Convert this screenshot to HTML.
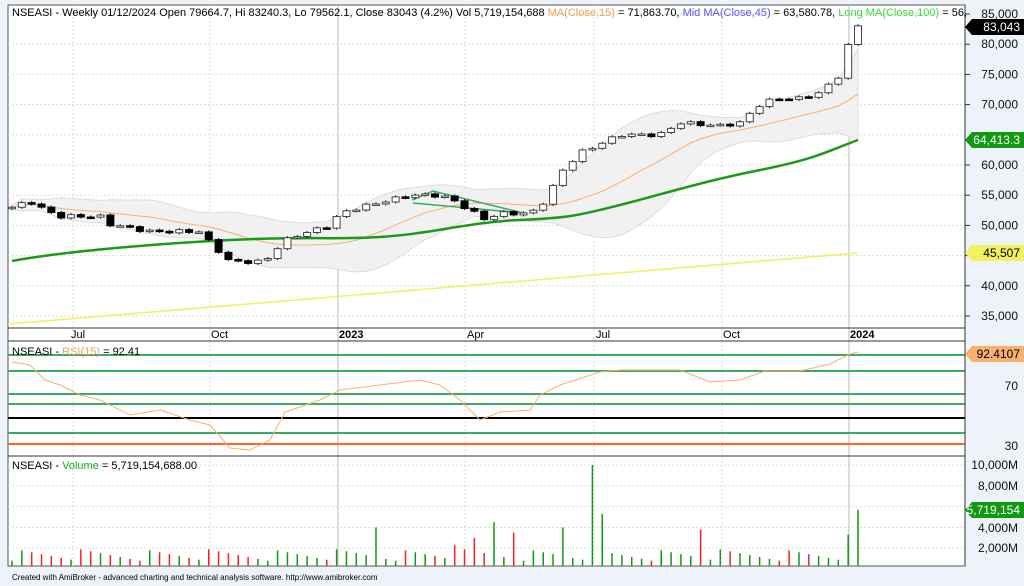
<!DOCTYPE html><html><head><meta charset="utf-8"><style>
body{margin:0;background:#eef2f9;}svg{display:block;font-family:"Liberation Sans",sans-serif;}
</style></head><body>
<svg id="s" width="1024" height="586" xmlns="http://www.w3.org/2000/svg">
<rect x="0" y="0" width="1024" height="586" fill="#eef2f9"/>
<rect x="8" y="5" width="957" height="561" fill="#fff" stroke="#555"/>
<g id="grid"></g>
<g id="plot"></g>
<line x1="8" y1="328" x2="965" y2="328" stroke="#333"/>
<line x1="8" y1="341" x2="965" y2="341" stroke="#333"/>
<line x1="8" y1="456" x2="965" y2="456" stroke="#333"/>
<line x1="965" y1="5" x2="965" y2="566" stroke="#333"/>
<g font-size="11" fill="#000">
<text x="71" y="338">Jul</text><text x="211" y="338">Oct</text><text x="339" y="338" font-weight="bold">2023</text><text x="467" y="338">Apr</text><text x="596" y="338">Jul</text><text x="723" y="338">Oct</text><text x="850" y="338" font-weight="bold">2024</text>
</g>
<text x="12" y="16" font-size="11" textLength="955" lengthAdjust="spacingAndGlyphs"><tspan fill="#000">NSEASI - Weekly 01/12/2024 Open 79664.7, Hi 83240.3, Lo 79562.1, Close 83043 (4.2%) Vol 5,719,154,688 </tspan><tspan fill="#f5a050">MA(Close,15)</tspan><tspan> = 71,863.70, </tspan><tspan fill="#5555ff">Mid MA(Close,45)</tspan><tspan> = 63,580.78, </tspan><tspan fill="#33dd33">Long MA(Close,100)</tspan><tspan> = 56,</tspan></text>
<text x="12" y="355" font-size="11">NSEASI - <tspan fill="#f5a050">RSI(15)</tspan> = 92.41</text>
<text x="12" y="469" font-size="11">NSEASI - <tspan fill="#22aa22">Volume</tspan> = 5,719,154,688.00</text>
<text x="12" y="580" font-size="8" fill="#000">Created with AmiBroker - advanced charting and technical analysis software. http://www.amibroker.com</text>
<g id="ax" font-size="12" fill="#111" text-anchor="end"></g>
</svg>
<script>
const NS="http://www.w3.org/2000/svg";
function el(p,t,a){const e=document.createElementNS(NS,t);for(const k in a)e.setAttribute(k,a[k]);document.getElementById(p).appendChild(e);return e;}
const py=v=>14+(85000-v)*0.00604;
const vy=m=>569-m*0.0104;
[85000,80000,75000,70000,65000,60000,55000,50000,45000,40000,35000].forEach(v=>el("grid","line",{x1:8,x2:965,y1:py(v),y2:py(v),stroke:"#ddd","stroke-dasharray":"2,2"}));
[10000,8000,6000,4000,2000].forEach(v=>el("grid","line",{x1:8,x2:965,y1:vy(v),y2:vy(v),stroke:"#ddd","stroke-dasharray":"2,2"}));
[73,210,338,465,594,722,849].forEach((x,i)=>el("grid","line",{x1:x,x2:x,y1:5,y2:566,stroke:(i==2||i==6)?"#bbb":"#ddd","stroke-dasharray":(i==2||i==6)?"":"2,2"}));
const K=[[12,53000],[30,54000],[45,52500],[60,51500],[100,51500],[110,50200],[150,49000],[200,49000],[208,47500],[230,44000],[265,44000],[275,46000],[290,48000],[330,50000],[340,52000],[360,53000],[410,55000],[440,55000],[455,54000],[475,52000],[485,51000],[500,52000],[530,52000],[540,53000],[550,55500],[562,59000],[580,62000],[600,63500],[620,65000],[660,65000],[680,67000],[720,66500],[740,67000],[760,70000],[775,71000],[800,71000],[820,72000],[838,74500],[848,79700],[858,83043]];
function interp(x){for(let i=1;i<K.length;i++){if(x<=K[i][0]){const a=K[i-1],b=K[i];return a[1]+(b[1]-a[1])*(x-a[0])/(b[0]-a[0]);}}return K[K.length-1][1];}
const N=87,xs=[],cl=[];
for(let i=0;i<N;i++){const x=12+(858-12)*i/(N-1);xs.push(x);cl.push(interp(x)+Math.sin(i*2.3)*300);}
cl[N-1]=83043;
function ma(n){return cl.map((c,i)=>{let s=0,k=0;for(let j=Math.max(0,i-n+1);j<=i;j++){s+=cl[j];k++;}return s/k;});}
const m15=ma(15);
const sd=cl.map((c,i)=>{let s=0,k=0;for(let j=Math.max(0,i-14);j<=i;j++){s+=(cl[j]-m15[i])**2;k++;}return Math.sqrt(s/k);});
let up="";
for(let i=0;i<N;i++){up+=(i?"L":"M")+xs[i]+","+py(m15[i]+1.6*sd[i]+400);}
for(let i=N-1;i>=0;i--){up+="L"+xs[i]+","+py(m15[i]-1.6*sd[i]-400);}
el("plot","path",{d:up+"Z",fill:"#f1f1f1",stroke:"#ddd"});
el("plot","line",{x1:8,y1:324,x2:858,y2:253,stroke:"#f0f060","stroke-width":1.5});
el("plot","polyline",{points:xs.map((x,i)=>x+","+py(m15[i])).join(" "),fill:"none",stroke:"#f8b070"});
el("plot","path",{d:"M12,261 C60,252 150,244 230,240 S330,240 380,237 S470,222 520,220 S580,215 620,205 S700,182 760,170 S830,150 858,140",fill:"none",stroke:"#1a9a1a","stroke-width":2.5});
el("plot","polyline",{points:"412,200 433,191 523,213 413,203",fill:"none",stroke:"#3aaa66","stroke-width":1.5});
for(let i=0;i<N;i++){const o=i?cl[i-1]:cl[0]-200,c=cl[i];const hi=Math.max(o,c)+250,lo=Math.min(o,c)-250;const x=xs[i];
el("plot","line",{x1:x,x2:x,y1:py(hi),y2:py(lo),stroke:"#000"});
const t=py(Math.max(o,c)),b=py(Math.min(o,c));el("plot","rect",{x:x-3.5,y:t,width:7,height:Math.max(1.5,b-t),fill:c>=o?"#fff":"#000",stroke:c>=o?"#444":"#000"});}
[355,371,394,404,433].forEach(y=>el("plot","line",{x1:8,x2:965,y1:y,y2:y,stroke:"#3aaa66","stroke-width":2}));
el("plot","line",{x1:8,x2:965,y1:418,y2:418,stroke:"#000","stroke-width":2});
el("plot","line",{x1:8,x2:965,y1:444,y2:444,stroke:"#ff6622","stroke-width":2});
el("plot","polyline",{points:"12,362 30,365 45,380 60,385 80,395 100,400 130,415 160,410 190,420 210,425 230,448 250,450 270,440 285,412 320,400 340,390 380,385 420,380 440,385 460,400 480,420 500,412 530,410 540,395 560,385 600,372 620,370 680,370 710,382 740,380 765,371 800,371 830,364 850,354 858,352",fill:"none",stroke:"#f8b070"});
const VS={592:10000,604:5300,494:4500,376:4000,563:4000,858:5700,848:3300,700:3800,514:3500,475:3000,454:2300};
for(let i=0;i<N;i++){const x=xs[i];let v=800+((i*37)%13)*90;for(const k in VS)if(Math.abs(k-x)<5)v=VS[k];
const down=i>0&&cl[i]<cl[i-1];el("plot","line",{x1:x,x2:x,y1:vy(v),y2:566,stroke:down?"#ee2222":"#119911","stroke-width":1.5});}
[85000,80000,75000,70000,60000,55000,50000,45000,40000,35000].forEach(v=>{const t=el("ax","text",{x:1018,y:py(v)+4});t.textContent=v.toLocaleString("en-US");el("ax","line",{x1:965,x2:970,y1:py(v),y2:py(v),stroke:"#333"});});
[[70,386],[30,446]].forEach(a=>{const t=el("ax","text",{x:1018,y:a[1]+4});t.textContent=a[0];});
[[10000,465],[8000,486],[4000,528],[2000,548]].forEach(a=>{const t=el("ax","text",{x:1018,y:a[1]+4});t.textContent=a[0].toLocaleString("en-US")+"M";});
function tag(y,txt,bg,fg){el("ax","path",{d:`M965,${y} L972,${y-8} L1024,${y-8} L1024,${y+8} L972,${y+8}Z`,fill:bg});const t=el("ax","text",{x:1020,y:y+4,fill:fg});t.textContent=txt;}
tag(27,"83,043","#000","#fff");tag(140,"64,413.3","#119911","#fff");tag(253,"45,507","#f0f060","#000");tag(354,"92.4107","#f8b070","#000");tag(510,"5,719,154","#119911","#fff");
</script>
</body></html>
